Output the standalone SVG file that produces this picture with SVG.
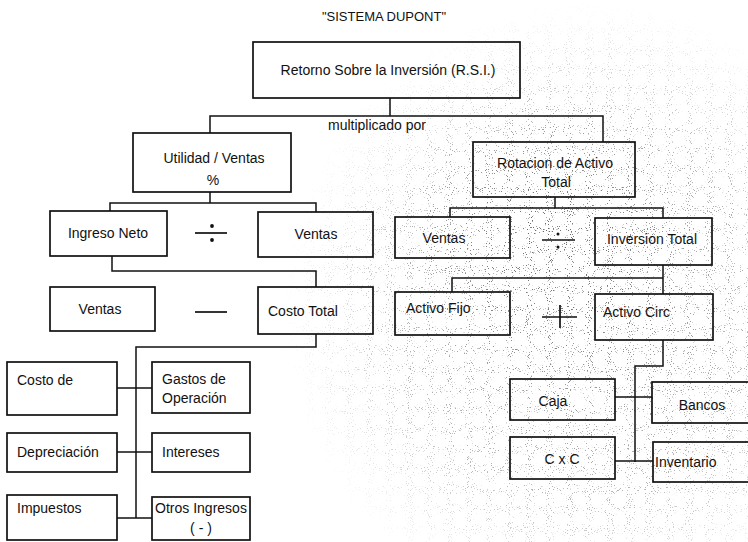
<svg xmlns="http://www.w3.org/2000/svg" width="748" height="542" viewBox="0 0 748 542">
  <defs>
    <!-- fine speckle used as paper grain -->
    <filter id="grain" x="0" y="0" width="100%" height="100%" filterUnits="objectBoundingBox">
      <feTurbulence type="fractalNoise" baseFrequency="0.95" numOctaves="1" seed="7"/>
      <feColorMatrix type="matrix" values="0 0 0 0 0  0 0 0 0 0  0 0 0 0 0  14 0 0 0 -8.9"/>
    </filter>
    <radialGradient id="fadeWide" cx="590" cy="310" r="310" gradientUnits="userSpaceOnUse">
      <stop offset="0" stop-color="#fff" stop-opacity="0.8"/>
      <stop offset="0.6" stop-color="#fff" stop-opacity="0.5"/>
      <stop offset="1" stop-color="#fff" stop-opacity="0"/>
    </radialGradient>
    <radialGradient id="fadeCore" cx="545" cy="235" r="150" gradientUnits="userSpaceOnUse">
      <stop offset="0" stop-color="#fff" stop-opacity="1"/>
      <stop offset="1" stop-color="#fff" stop-opacity="0"/>
    </radialGradient>
    <mask id="grainMask" maskUnits="userSpaceOnUse" x="0" y="0" width="748" height="542">
      <rect width="748" height="542" fill="url(#fadeWide)"/>
      <rect width="748" height="542" fill="url(#fadeCore)"/>
    </mask>
  </defs>
  <style>
    .box { fill: none; stroke: #111; stroke-width: 1.7; }
    .ln { fill: none; stroke: #111; stroke-width: 1.5; }
    .op { fill: none; stroke: #111; stroke-width: 1.7; }
    text { font-family: "Liberation Sans", Arial, sans-serif; font-size: 14px; fill: #111; }
    .c { text-anchor: middle; }
  </style>
  <rect width="748" height="542" fill="#fff"/>

  <!-- grain -->
  <g mask="url(#grainMask)" opacity="0.6">
    <rect x="0" y="0" width="748" height="542" fill="#000" filter="url(#grain)"/>
  </g>

  <text class="c" x="384" y="21" style="font-size:13px">"SISTEMA DUPONT"</text>

  <!-- connectors -->
  <g id="connectors">
    <!-- RSI to first level -->
    <path class="ln" d="M390 98 V116 M210 133 V116 H603 V142"/>
    <!-- Utilidad / Ventas branch -->
    <path class="ln" d="M210 192 V203 M110 211 V203 H316 V212"/>
    <path class="ln" d="M112 256 V271 H316 V287"/>
    <path class="ln" d="M316 334 V347 H136 V518"/>
    <path class="ln" d="M117 388 H152 M117 452 H152 M117 518 H152"/>
    <!-- Rotacion branch -->
    <path class="ln" d="M555 197 V208 M450 217 V208 H663 V218"/>
    <path class="ln" d="M663 265 V278 H452 V292 M663 278 V294"/>
    <path class="ln" d="M663 340 V366 H635 V462"/>
    <path class="ln" d="M615 397 H652 M615 461 H653"/>
  </g>

  <!-- operators -->
  <g id="op-div-left">
    <path class="op" d="M195 233 H227"/>
    <circle cx="212" cy="226" r="1.9" fill="#111"/>
    <circle cx="212" cy="240" r="1.9" fill="#111"/>
  </g>
  <g id="op-minus"><path class="op" d="M195 312 H227"/></g>
  <g id="op-div-right">
    <path class="op" d="M542 240 H575"/>
    <circle cx="558" cy="234" r="1.5" fill="#111"/>
    <circle cx="558" cy="247" r="1.5" fill="#111"/>
  </g>
  <g id="op-plus"><path class="op" d="M542 317 H577 M560 305 V328"/></g>

  <!-- nodes -->
  <g id="n-rsi">
    <rect class="box" x="253" y="42" width="267" height="56"/>
    <text class="c" x="388" y="75">Retorno Sobre la Inversión (R.S.I.)</text>
  </g>
  <text class="c" x="377" y="130">multiplicado por</text>

  <g id="n-utilidad">
    <rect class="box" x="133" y="133" width="158" height="59"/>
    <text class="c" x="214" y="163">Utilidad / Ventas</text>
    <text class="c" x="213" y="185">%</text>
  </g>
  <g id="n-rotacion">
    <rect class="box" x="473" y="142" width="162" height="55"/>
    <text class="c" x="555" y="168">Rotacion de Activo</text>
    <text class="c" x="556" y="187">Total</text>
  </g>

  <g id="n-ingreso">
    <rect class="box" x="50" y="211" width="117" height="45"/>
    <text class="c" x="108" y="238">Ingreso Neto</text>
  </g>
  <g id="n-ventas1">
    <rect class="box" x="258" y="212" width="115" height="45"/>
    <text class="c" x="316" y="239">Ventas</text>
  </g>
  <g id="n-ventas2">
    <rect class="box" x="395" y="217" width="115" height="41"/>
    <text class="c" x="444" y="243">Ventas</text>
  </g>
  <g id="n-inversion">
    <rect class="box" x="595" y="218" width="117" height="47"/>
    <text class="c" x="652" y="244">Inversion Total</text>
  </g>

  <g id="n-ventas3">
    <rect class="box" x="50" y="287" width="105" height="44"/>
    <text class="c" x="100" y="314">Ventas</text>
  </g>
  <g id="n-costo-total">
    <rect class="box" x="258" y="287" width="115" height="47"/>
    <text x="268" y="316">Costo Total</text>
  </g>
  <g id="n-activo-fijo">
    <rect class="box" x="395" y="292" width="115" height="43"/>
    <text x="406" y="313">Activo Fijo</text>
  </g>
  <g id="n-activo-circ">
    <rect class="box" x="595" y="294" width="118" height="46"/>
    <text x="603" y="317">Activo Circ</text>
  </g>

  <g id="n-costo-de">
    <rect class="box" x="7" y="362" width="110" height="53"/>
    <text x="17" y="385">Costo de</text>
  </g>
  <g id="n-gastos">
    <rect class="box" x="152" y="362" width="98" height="51"/>
    <text x="162" y="384">Gastos de</text>
    <text x="162" y="403">Operación</text>
  </g>
  <g id="n-depreciacion">
    <rect class="box" x="7" y="433" width="110" height="39"/>
    <text x="17" y="457">Depreciación</text>
  </g>
  <g id="n-intereses">
    <rect class="box" x="152" y="433" width="98" height="39"/>
    <text x="162" y="457">Intereses</text>
  </g>
  <g id="n-impuestos">
    <rect class="box" x="7" y="495" width="110" height="45"/>
    <text x="17" y="513">Impuestos</text>
  </g>
  <g id="n-otros">
    <rect class="box" x="152" y="497" width="98" height="43"/>
    <text class="c" x="201" y="513">Otros Ingresos</text>
    <text class="c" x="201" y="533">( - )</text>
  </g>

  <g id="n-caja">
    <rect class="box" x="510" y="379" width="105" height="41"/>
    <text class="c" x="553" y="406">Caja</text>
  </g>
  <g id="n-bancos">
    <rect class="box" x="652" y="382" width="100" height="41"/>
    <text class="c" x="702" y="410">Bancos</text>
  </g>
  <g id="n-cxc">
    <rect class="box" x="510" y="437" width="105" height="42"/>
    <text class="c" x="562" y="464">C x C</text>
  </g>
  <g id="n-inventario">
    <rect class="box" x="653" y="442" width="100" height="40"/>
    <text x="655" y="467">Inventario</text>
  </g>
</svg>
